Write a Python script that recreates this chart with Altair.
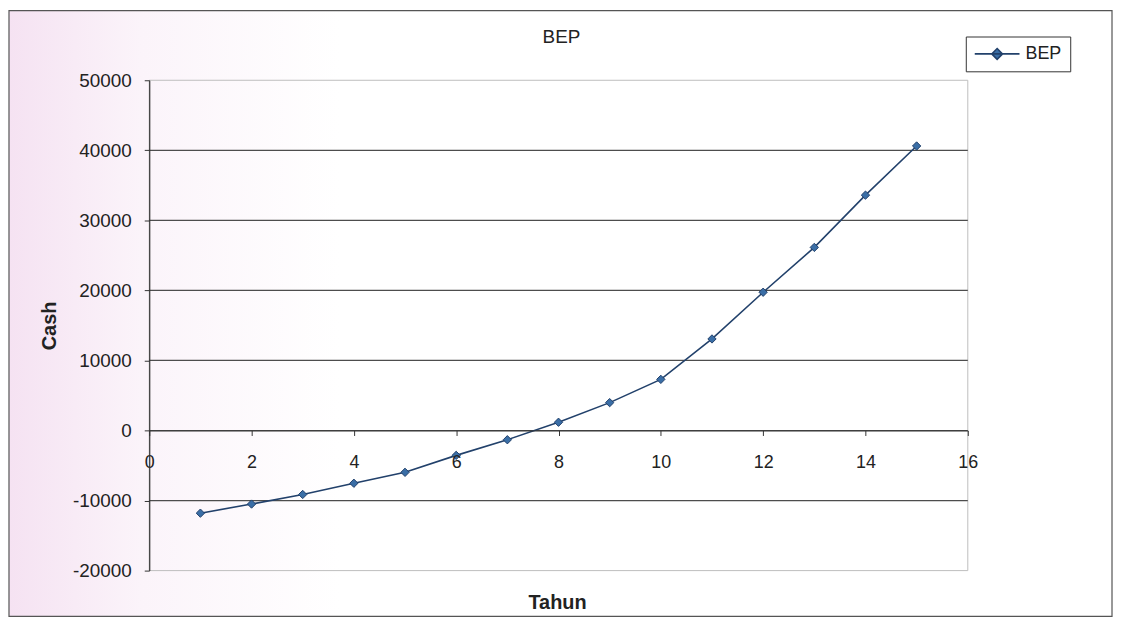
import altair as alt
import pandas as pd

# ---- data ----
tahun = list(range(1, 16))
cash = [-11800, -10500, -9130, -7530, -5970, -3550, -1320, 1180,
        3980, 7300, 13070, 19740, 26140, 33600, 40620]
series = ["BEP"] * len(tahun)
x_ticks = [0, 2, 4, 6, 8, 10, 12, 14, 16]
y_ticks = [-20000, -10000, 0, 10000, 20000, 30000, 40000, 50000]
grid_values = [-10000, 0, 10000, 20000, 30000, 40000]

df = pd.DataFrame({"Tahun": tahun, "Cash": cash, "Series": series})
grid_df = pd.DataFrame({"v": grid_values})
frame_df = pd.DataFrame({"a": [0]})

W, H = 823, 493
FONT = "Liberation Sans"
y_zero_from_bottom = H * (0 - (-20000)) / 70000.0

xscale = alt.Scale(domain=[0, 16], nice=False, zero=False)
yscale = alt.Scale(domain=[-20000, 50000], nice=False, zero=False)

frame = alt.Chart(frame_df).mark_rect(
    stroke="#555555", strokeWidth=1.2,
    fill=alt.Gradient(gradient="linear",
                      stops=[alt.GradientStop(color="#f5e2f2", offset=0),
                             alt.GradientStop(color="#fbf4fa", offset=0.12),
                             alt.GradientStop(color="#ffffff", offset=0.3),
                             alt.GradientStop(color="#ffffff", offset=1)],
                      x1=0, x2=1, y1=0, y2=0),
).encode(
    x=alt.value(-141), x2=alt.value(W + 145),
    y=alt.value(-70), y2=alt.value(H + 46),
)

plot_border = alt.Chart(frame_df).mark_rect(
    fill="transparent", stroke="#bdbdbd", strokeWidth=1,
).encode(
    x=alt.value(0), x2=alt.value(W), y=alt.value(0), y2=alt.value(H),
)

grid = alt.Chart(grid_df).mark_rule(color="#4d4d4d", strokeWidth=1.2).encode(
    y=alt.Y("v:Q", scale=yscale),
)

line = alt.Chart(df).mark_line(strokeWidth=1.6).encode(
    x=alt.X("Tahun:Q", scale=xscale,
            axis=alt.Axis(values=x_ticks, offset=-y_zero_from_bottom,
                          title="Tahun", titleFont=FONT, titleFontSize=20,
                          titleFontWeight="bold", titleColor="#222",
                          titleY=179, titleBaseline="alphabetic", titleX=410,
                          labelFont=FONT, labelFontSize=18, labelColor="#222",
                          labelPadding=18, labelFlush=False,
                          domainColor="#333", domainWidth=1.2,
                          tickColor="#333", tickSize=5, grid=False, zindex=1)),
    y=alt.Y("Cash:Q", scale=yscale,
            axis=alt.Axis(values=y_ticks, title="Cash", titleFont=FONT,
                          titleFontSize=20, titleFontWeight="bold", titleColor="#222",
                          titleX=-94, titleBaseline="alphabetic",
                          labelExpr="'' + datum.value",
                          labelFont=FONT, labelFontSize=19, labelColor="#222",
                          labelPadding=13, domainColor="#333", domainWidth=1.2,
                          tickColor="#333", tickSize=5, grid=False, zindex=1)),
    color=alt.Color("Series:N", scale=alt.Scale(range=["#22416b"]),
                    legend=alt.Legend(
                        title=None, orient="none", legendX=821, legendY=-44,
                        symbolType="M-1,0H1M0,-0.24L0.24,0L0,0.24L-0.24,0Z",
                        symbolSize=2025, symbolStrokeWidth=1.6,
                        symbolFillColor="#3a6ea6", symbolStrokeColor="#22416b",
                        clipHeight=19,
                        labelFont=FONT, labelFontSize=18, labelColor="#222",
                        labelOffset=5, padding=8, strokeColor="#333",
                        fillColor="#ffffff", zindex=2)),
)

points = alt.Chart(df).mark_point(
    shape="diamond", filled=True, size=70, color="#3a6ea6",
    stroke="#22416b", strokeWidth=1, opacity=1,
).encode(
    x=alt.X("Tahun:Q", scale=xscale),
    y=alt.Y("Cash:Q", scale=yscale),
)

chart = alt.layer(frame, plot_border, grid, line, points).properties(
    width=W, height=H,
    title=alt.Title("BEP", font=FONT, fontSize=19, fontWeight="normal",
                    color="#222", anchor="middle", frame="group",
                    offset=-37, dx=3),
    autosize=alt.AutoSizeParams(type="none"),
    padding={"left": 142, "top": 71, "right": 146, "bottom": 47},
).configure_view(stroke=None).configure(background="#ffffff")

chart.save("out.html", embed_options={"renderer": "svg", "actions": False})
